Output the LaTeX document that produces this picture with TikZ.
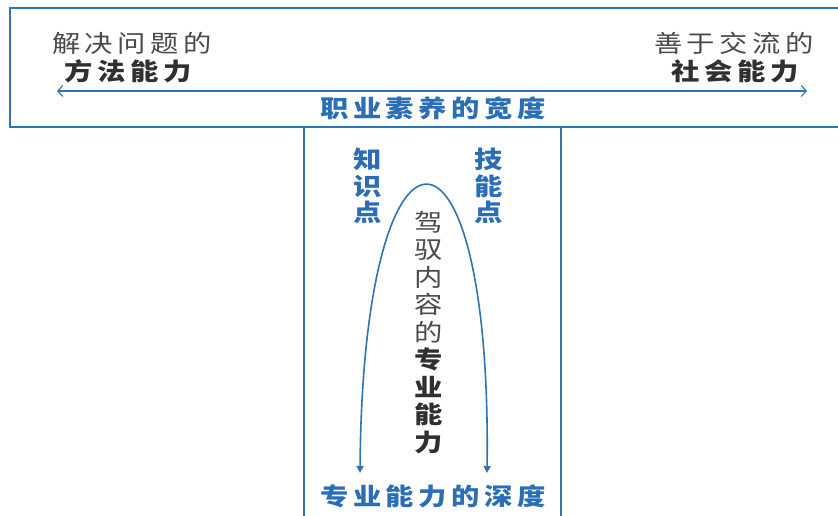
\documentclass[tikz,border=0pt]{standalone}
\usepackage{fontspec}
\usetikzlibrary{arrows.meta}
\newfontfamily\cjk[FakeStretch=1.18,LetterSpace=19]{Noto Sans CJK SC}
\definecolor{frameblue}{HTML}{2E75B6}
\definecolor{textblue}{HTML}{2A6EB8}
\definecolor{textgray}{HTML}{4A4A4A}
\definecolor{textdark}{HTML}{303030}
\tikzset{
  frame/.style={draw=frameblue, line width=2.8pt},
  graytxt/.style={text=textgray, font=\cjk\fontsize{24}{27.5}\selectfont, inner sep=0pt},
  darktxt/.style={text=textdark, font=\cjk\bfseries\fontsize{24}{27.5}\selectfont, inner sep=0pt},
  bluetxt/.style={text=textblue, font=\cjk\bfseries\fontsize{24}{26.5}\selectfont, inner sep=0pt},
  vtxt/.style={align=center, inner sep=0pt},
  widearrow/.style={draw=frameblue, line width=1.1pt, {Straight Barb[length=5pt,width=11pt]}-{Straight Barb[length=5pt,width=11pt]}},
  archarrow/.style={draw=frameblue, line width=1.6pt, {Triangle[length=7pt,width=7pt]}-{Triangle[length=7pt,width=7pt]}}
}
\begin{document}
\begin{tikzpicture}[x=1pt,y=-1pt]
\useasboundingbox[fill=white] (0,0) rectangle (838,515);
% frames
\draw[frame] (850,8) -- (10,8) -- (10,127) -- (850,127);
\draw[frame] (304,127) -- (304,525);
\draw[frame] (561,127) -- (561,525);
% top texts
\node[graytxt] (l1) at (132,43) {解决问题的};
\node[darktxt] (l2) at (128,71) {方法能力};
\node[graytxt] (r1) at (734,43) {善于交流的};
\node[darktxt] (r2) at (735,71) {社会能力};
\coordinate (aL) at (57,91);
\coordinate (aR) at (807,91);
\draw[widearrow] (aL) -- (aR);
\node[bluetxt] (breadth) at (433,108) {职业素养的宽度};
% vertical part
\node[bluetxt, vtxt] (know) at (368,186) {知\\识\\点};
\node[bluetxt, vtxt] (skill) at (489,186) {技\\能\\点};
\node[graytxt, vtxt] (midA) at (429,277) {驾\\驭\\内\\容\\的};
\node[darktxt, vtxt] (midB) at (429,401) {专\\业\\能\\力};
\coordinate (archL) at (360,473);
\coordinate (archR) at (487,473);
\draw[archarrow] (archL) .. controls (363,90) and (492,90) .. (archR);
\node[bluetxt] (depth) at (433,496) {专业能力的深度};
\end{tikzpicture}
\end{document}
